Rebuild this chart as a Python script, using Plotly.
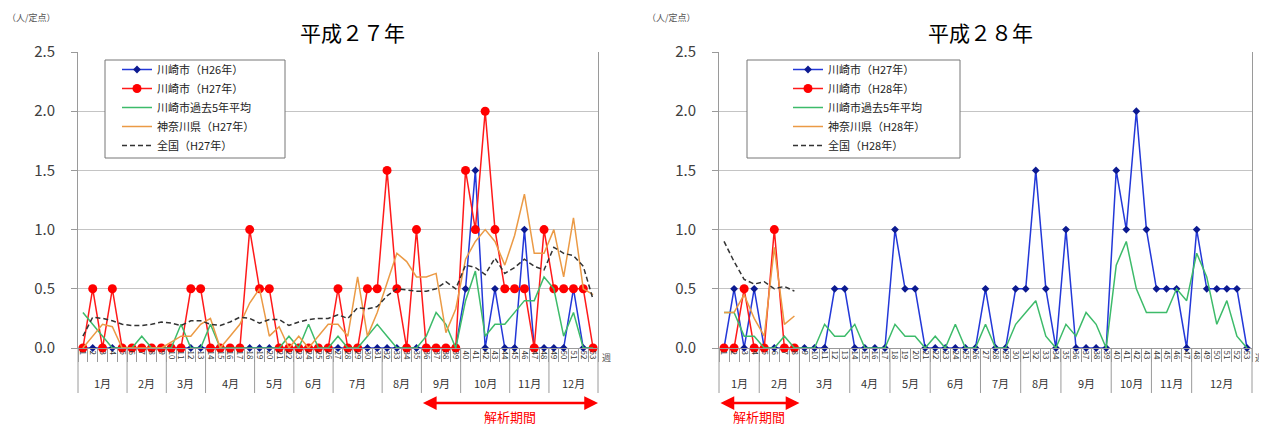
import plotly.graph_objects as go

# ---------------- data ----------------
weeks = list(range(1, 54))
week_labels = [str(w) for w in weeks]

# Left chart (平成27年)
kawasaki_h26 = [0, 0, 0, 0, 0, 0, 0, 0, 0, 0,
                0, 0, 0, 0, 0, 0, 0, 0, 0, 0,
                0, 0, 0, 0, 0, 0, 0, 0, 0, 0,
                0, 0, 0, 0, 0, 0, 0, 0, 0, 0.5,
                1.5, 0, 0.5, 0, 0, 1.0, 0, 0, 0, 0,
                0.5, 0, 0]
kawasaki_h27 = [0, 0.5, 0, 0.5, 0, 0, 0, 0, 0, 0,
                0, 0.5, 0.5, 0, 0, 0, 0, 1.0, 0.5, 0.5,
                0, 0, 0, 0, 0, 0, 0.5, 0, 0, 0.5,
                0.5, 1.5, 0.5, 0, 1.0, 0, 0, 0, 0, 1.5,
                1.0, 2.0, 1.0, 0.5, 0.5, 0.5, 0, 1.0, 0.5, 0.5,
                0.5, 0.5, 0]
avg5_left = [0.3, 0.2, 0.1, 0, 0, 0, 0.1, 0, 0, 0,
             0.2, 0, 0, 0.2, 0, 0, 0, 0, 0, 0,
             0, 0.1, 0, 0.2, 0, 0, 0.1, 0, 0, 0.1,
             0.2, 0.1, 0, 0, 0, 0.1, 0.3, 0.2, 0, 0.4,
             0.65, 0.1, 0.2, 0.2, 0.3, 0.4, 0.4, 0.6, 0.5, 0.1,
             0.3, 0, 0]
kanagawa_h27 = [0, 0.1, 0.2, 0.18, 0, 0, 0, 0, 0, 0.05,
                0.1, 0.1, 0.2, 0.25, 0, 0.1, 0.2, 0.38, 0.5, 0.1,
                0.18, 0, 0.1, 0, 0.1, 0.2, 0.2, 0.1, 0.6, 0.1,
                0.3, 0.55, 0.8, 0.73, 0.6, 0.6, 0.63, 0.13, 0.33, 0.75,
                0.9, 1.0, 0.9, 0.7, 0.95, 1.3, 0.8, 0.8, 1.0, 0.6,
                1.1, 0.5, 0.45]
national_h27 = [0.1, 0.26, 0.25, 0.23, 0.2, 0.19, 0.19, 0.2, 0.22, 0.21,
                0.19, 0.23, 0.23, 0.2, 0.19, 0.22, 0.26, 0.25, 0.21, 0.24,
                0.24, 0.19, 0.22, 0.24, 0.25, 0.25, 0.28, 0.25, 0.34, 0.33,
                0.35, 0.44, 0.5, 0.49, 0.48, 0.48, 0.5, 0.56, 0.5, 0.7,
                0.68, 0.62, 0.76, 0.63, 0.68, 0.75, 0.69, 0.66, 0.85, 0.8,
                0.78, 0.69, 0.41]

# Right chart (平成28年)
kawasaki_h27_r = kawasaki_h27
weeks_h28 = [1, 2, 3, 4, 5, 6, 7, 8]
kawasaki_h28 = [0, 0, 0.5, 0, 0, 1.0, 0, 0]
avg5_right = [0.3, 0.3, 0.1, 0.1, 0, 0, 0.1, 0, 0, 0,
              0.2, 0.1, 0.1, 0.2, 0, 0, 0, 0.2, 0.1, 0.1,
              0, 0.1, 0, 0.2, 0, 0, 0.2, 0, 0, 0.2,
              0.3, 0.4, 0.1, 0, 0.2, 0.1, 0.3, 0.2, 0, 0.7,
              0.9, 0.5, 0.3, 0.3, 0.3, 0.5, 0.4, 0.8, 0.6, 0.2,
              0.4, 0.1, 0]
kanagawa_h28 = [0.3, 0.3, 0.45, 0.25, 0.1, 0.85, 0.2, 0.27]
national_h28 = [0.9, 0.73, 0.58, 0.54, 0.56, 0.5, 0.52, 0.48]

months = ["1月", "2月", "3月", "4月", "5月", "6月", "7月", "8月", "9月", "10月", "11月", "12月"]
month_weeks_h27 = [5, 4, 4, 5, 4, 4, 5, 4, 4, 5, 4, 5]
month_weeks_h28 = [4, 4, 5, 4, 4, 5, 4, 4, 5, 4, 4, 6]

analysis_h27 = (36, 53)
analysis_h28 = (1, 8)

titles = ["平成２７年", "平成２８年"]
unit_label = "（人/定点）"

# ---------------- styles / page geometry ----------------
FONT = "Noto Sans CJK JP"
BLUE_LINE = "#2338d8"
BLUE_MK = "#0c1a90"
RED = "#ff1a1a"
GREEN = "#3dbb6a"
ORANGE = "#eb9a45"
DASH = "#333333"
OFF = 8                      # default page body margin
W, H = 1267 - OFF, 428 - OFF


def px(xp):
    return (xp - OFF) / W


def py(yp):
    return 1 - (yp - OFF) / H


fig = go.Figure()


def add_traces(xa, ya, legend, names, prev, cur, avg, kana, nat, x_cur):
    fig.add_trace(go.Scatter(x=weeks, y=prev, name=names[0], mode="lines+markers",
                             line=dict(color=BLUE_LINE, width=1.5),
                             marker=dict(symbol="diamond", size=6, color=BLUE_MK),
                             xaxis=xa, yaxis=ya, legend=legend, cliponaxis=False))
    fig.add_trace(go.Scatter(x=x_cur, y=cur, name=names[1], mode="lines+markers",
                             line=dict(color=RED, width=1.5),
                             marker=dict(symbol="circle", size=9, color="#ff0000"),
                             xaxis=xa, yaxis=ya, legend=legend, cliponaxis=False))
    fig.add_trace(go.Scatter(x=weeks, y=avg, name=names[2], mode="lines",
                             line=dict(color=GREEN, width=1.5),
                             xaxis=xa, yaxis=ya, legend=legend))
    fig.add_trace(go.Scatter(x=x_cur, y=kana, name=names[3], mode="lines",
                             line=dict(color=ORANGE, width=1.5),
                             xaxis=xa, yaxis=ya, legend=legend))
    fig.add_trace(go.Scatter(x=x_cur, y=nat, name=names[4], mode="lines",
                             line=dict(color=DASH, width=1.5, dash="5px,3px"),
                             xaxis=xa, yaxis=ya, legend=legend))


add_traces("x", "y", "legend",
           ["川崎市（H26年）", "川崎市（H27年）", "川崎市過去5年平均", "神奈川県（H27年）", "全国（H27年）"],
           kawasaki_h26, kawasaki_h27, avg5_left, kanagawa_h27, national_h27, weeks)
add_traces("x2", "y2", "legend2",
           ["川崎市（H27年）", "川崎市（H28年）", "川崎市過去5年平均", "神奈川県（H28年）", "全国（H28年）"],
           kawasaki_h27_r, kawasaki_h28, avg5_right, kanagawa_h28, national_h28, weeks_h28)

# ---------------- axes ----------------
y_dom = [py(348), py(52)]
x_doms = [[px(78), px(598)], [px(719), px(1252)]]
boundaries = [w + 0.5 for w in range(0, 54)]

for i, xd in enumerate(x_doms):
    xk = "xaxis" if i == 0 else "xaxis2"
    yk = "yaxis" if i == 0 else "yaxis2"
    fig.layout[xk] = dict(domain=xd, range=[0.5, 53.5], tickmode="array",
                          tickvals=weeks, ticktext=week_labels, tickangle=90,
                          ticks="", showgrid=False, zeroline=False, automargin=False,
                          showline=True, linecolor="#9a9a9a", linewidth=1,
                          tickfont=dict(size=8, color="#333", family=FONT),
                          minor=dict(tickmode="array", tickvals=boundaries, ticks="outside",
                                     ticklen=13, tickcolor="#9a9a9a", tickwidth=1, showgrid=False),
                          anchor="y" if i == 0 else "y2", fixedrange=True)
    fig.layout[yk] = dict(domain=y_dom, range=[0, 2.5], dtick=0.5, tick0=0, tickformat=".1f",
                          showgrid=True, gridcolor="#c4c4c4", gridwidth=1, zeroline=False,
                          showline=True, linecolor="#9a9a9a", mirror=True, automargin=False,
                          ticks="outside", ticklen=6, tickcolor="#9a9a9a",
                          ticklabelstandoff=13,
                          tickfont=dict(size=15, color="#404040", family=FONT),
                          anchor="x" if i == 0 else "x2", fixedrange=True)

# ---------------- month dividers / labels ----------------
shapes = []
annotations = []
for i, mw in enumerate([month_weeks_h27, month_weeks_h28]):
    xr = "x domain" if i == 0 else "x2 domain"
    yr = "y domain" if i == 0 else "y2 domain"
    xd = "x" if i == 0 else "x2"
    cum = 0
    edges = [0]
    for n in mw:
        cum += n
        edges.append(cum)
    for e in edges:
        shapes.append(dict(type="line", xref=xr, yref=yr, x0=e / 53, x1=e / 53,
                           y0=0, y1=-0.152, line=dict(color="#9a9a9a", width=1)))
    for m, a, b in zip(months, edges[:-1], edges[1:]):
        annotations.append(dict(text=m, xref=xd, yref=yr, x=(a + b) / 2 + 0.5, y=-0.118,
                                xanchor="center", yanchor="middle",
                                showarrow=False, font=dict(size=11, color="#333", family=FONT)))

# legend boxes (drawn as shapes so their size matches the original)
for (x0, x1) in [(105, 285), (747, 960)]:
    shapes.append(dict(type="rect", xref="paper", yref="paper", x0=px(x0), x1=px(x1),
                       y0=py(158), y1=py(60), layer="above",
                       line=dict(color="#777", width=1), fillcolor="white"))

# titles / units / 週
for i, t in enumerate(titles):
    cx = [352, 980][i]
    annotations.append(dict(text=t, xref="paper", yref="paper", x=px(cx), y=py(32),
                            xanchor="center", yanchor="middle",
                            showarrow=False, font=dict(size=21, color="#000", family=FONT)))
    ux = [31, 671][i]
    annotations.append(dict(text=unit_label, xref="paper", yref="paper", x=px(ux), y=py(17),
                            xanchor="center", yanchor="middle",
                            showarrow=False, font=dict(size=9, color="#555", family=FONT)))
    wx = [606, 1259][i]
    annotations.append(dict(text="週", xref="paper", yref="paper", x=px(wx), y=py(357),
                            xanchor="center", yanchor="middle",
                            showarrow=False, font=dict(size=9, color="#555", family=FONT)))

# analysis period arrows
for i, (a, b) in enumerate([analysis_h27, analysis_h28]):
    xd = "x" if i == 0 else "x2"
    yr = "y domain" if i == 0 else "y2 domain"
    annotations.append(dict(text="", x=b + 0.5, y=-0.186, xref=xd, yref=yr,
                            ax=a - 0.5, ay=-0.186, axref=xd, ayref=yr,
                            showarrow=True, arrowhead=2, arrowside="end+start",
                            arrowsize=1.1, arrowwidth=2.5, arrowcolor="#ff0000"))
    annotations.append(dict(text="解析期間", x=(a + b) / 2, y=-0.232, xref=xd, yref=yr,
                            xanchor="center", yanchor="middle",
                            showarrow=False, font=dict(size=13, color="#ff0000", family=FONT)))

legend_common = dict(xanchor="left", yanchor="top", borderwidth=0,
                     bgcolor="rgba(0,0,0,0)", tracegroupgap=0,
                     font=dict(size=11, color="#222", family=FONT))

fig.update_layout(
    width=W, height=H, margin=dict(l=0, r=0, t=0, b=0, pad=0, autoexpand=False),
    paper_bgcolor="white", plot_bgcolor="white",
    font=dict(family=FONT, color="#333"),
    shapes=shapes, annotations=annotations,
    legend=dict(x=px(117), y=py(55), **legend_common),
    legend2=dict(x=px(788), y=py(55), **legend_common),
    showlegend=True,
)

fig.write_html("out.html")
